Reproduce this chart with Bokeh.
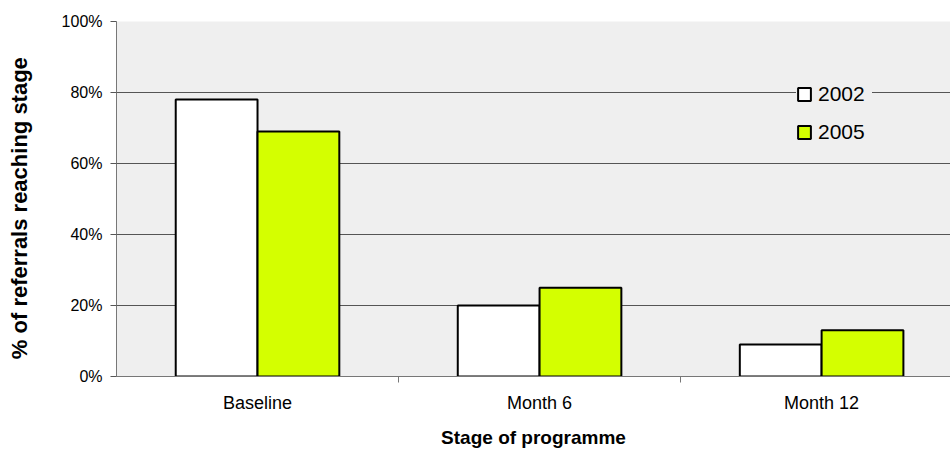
from bokeh.plotting import figure
from bokeh.models import Range1d, FixedTicker, NumeralTickFormatter, Legend, LegendItem
from bokeh.embed import file_html
from bokeh.resources import INLINE

stages = ["Baseline", "Month 6", "Month 12"]
years = ["2002", "2005"]
v2002 = [0.78, 0.20, 0.09]
v2005 = [0.69, 0.25, 0.13]
colors = ["#FFFFFF", "#D4FF00"]
x_title = "Stage of programme"
y_title = "% of referrals reaching stage"

FONT = "Liberation Sans"

p = figure(width=950, height=451, output_backend="svg", toolbar_location=None,
           x_range=Range1d(0, 2.957), y_range=Range1d(0, 1.0),
           min_border_left=116, min_border_right=0, min_border_top=21, min_border_bottom=75)
p.outline_line_color = None
p.background_fill_color = "#EFEFEF"
p.border_fill_color = "white"

centers = [i + 0.5 for i in range(len(stages))]
x1 = [c - 0.145 for c in centers]
x2 = [c + 0.145 for c in centers]
r1 = p.vbar(x=x1, top=v2002, width=0.29, fill_color=colors[0], line_color="black", line_width=2)
r2 = p.vbar(x=x2, top=v2005, width=0.29, fill_color=colors[1], line_color="black", line_width=2)

# axes
p.xgrid.grid_line_color = None
p.ygrid.grid_line_color = "#555555"
p.ygrid.grid_line_width = 1
p.yaxis.ticker = FixedTicker(ticks=[0, 0.2, 0.4, 0.6, 0.8, 1.0])
p.ygrid.ticker = FixedTicker(ticks=[0.2, 0.4, 0.6, 0.8, 1.0])
p.yaxis.formatter = NumeralTickFormatter(format="0%")
p.yaxis.minor_tick_line_color = None
p.yaxis.major_tick_in = 0
p.yaxis.major_tick_out = 6
p.yaxis.major_label_standoff = 8
p.yaxis.axis_line_color = "#777777"
p.yaxis.major_tick_line_color = "#555555"
p.yaxis.major_label_text_font = FONT
p.yaxis.major_label_text_font_size = "16px"
p.yaxis.major_label_text_color = "black"
p.yaxis.axis_label = y_title + "\u00a0\u00a0\u00a0"
p.yaxis.axis_label_text_font = FONT
p.yaxis.axis_label_text_font_style = "bold"
p.yaxis.axis_label_text_font_size = "22px"
p.yaxis.axis_label_text_color = "black"
p.yaxis.axis_label_standoff = 27

p.xaxis.ticker = FixedTicker(ticks=centers, minor_ticks=[1, 2])
p.xaxis.major_label_overrides = {c: s for c, s in zip(centers, stages)}
p.xaxis.major_tick_in = 0
p.xaxis.major_tick_out = 0
p.xaxis.minor_tick_in = 0
p.xaxis.minor_tick_out = 6
p.xaxis.minor_tick_line_color = "#777777"
p.xaxis.axis_line_color = "#777777"
p.xaxis.major_label_standoff = 10
p.xaxis.major_label_text_font = FONT
p.xaxis.major_label_text_font_size = "18px"
p.xaxis.major_label_text_color = "black"
p.xaxis.axis_label = x_title
p.xaxis.axis_label_text_font = FONT
p.xaxis.axis_label_text_font_style = "bold"
p.xaxis.axis_label_text_font_size = "19px"
p.xaxis.axis_label_text_color = "black"
p.xaxis.axis_label_standoff = 11

legend = Legend(items=[LegendItem(label=years[0], renderers=[r1]),
                       LegendItem(label=years[1], renderers=[r2])],
                location=(680, 232))
legend.background_fill_color = "#EFEFEF"
legend.background_fill_alpha = 1
legend.border_line_color = None
legend.label_text_font = FONT
legend.label_text_font_size = "21px"
legend.label_text_color = "black"
legend.glyph_width = 16
legend.glyph_height = 16
legend.label_height = 24
legend.label_width = 54
legend.label_standoff = 6
legend.spacing = 14
legend.padding = 8
legend.margin = 0
p.add_layout(legend)

open("out.html", "w").write(file_html(p, INLINE))
